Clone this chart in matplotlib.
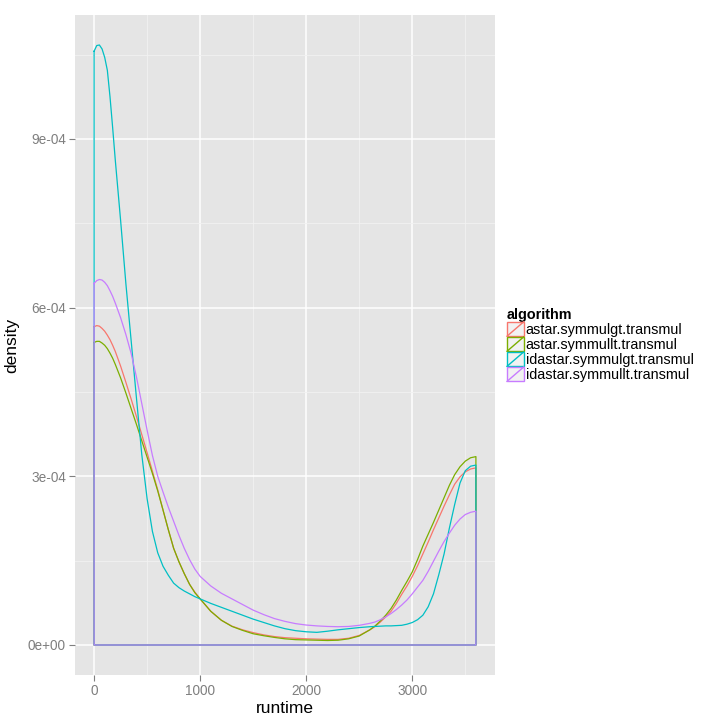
import matplotlib
matplotlib.use("Agg")
import matplotlib.pyplot as plt
from matplotlib.legend_handler import HandlerBase
from matplotlib.patches import Rectangle
from matplotlib.lines import Line2D

plt.rcParams['font.family'] = ['Liberation Sans', 'DejaVu Sans']

# ---- data (density in units of 1e-4) ----
runtime = [0, 25, 50, 75, 100, 125,
           150, 175, 200, 250, 300, 350, 400, 450, 500, 550, 600, 650, 700, 750, 800, 850, 900, 950, 1000,
           1100, 1200, 1300, 1400, 1500, 1600, 1700, 1800, 1900, 2000, 2100, 2200, 2300, 2400, 2500, 2600,
           2650, 2700, 2750, 2800, 2850, 2900, 2950, 3000, 3050, 3100, 3150, 3200, 3250, 3300, 3350,
           3400, 3450, 3500, 3550, 3600]

algorithms = ["astar.symmulgt.transmul", "astar.symmullt.transmul",
              "idastar.symmulgt.transmul", "idastar.symmullt.transmul"]

astar_symmulgt = [5.66, 5.68, 5.67, 5.63, 5.58, 5.51,
                  5.43, 5.33, 5.22, 4.96, 4.67, 4.37, 4.06, 3.74, 3.42, 3.09, 2.76, 2.40, 2.05, 1.72, 1.48, 1.27, 1.08, 0.94, 0.82,
                  0.60, 0.44, 0.335, 0.27, 0.22, 0.18, 0.15, 0.13, 0.12, 0.11, 0.105, 0.10, 0.10, 0.12, 0.17, 0.27,
                  0.33, 0.41, 0.50, 0.60, 0.74, 0.90, 1.05, 1.22, 1.41, 1.62, 1.83, 2.05, 2.26, 2.47, 2.67,
                  2.86, 2.99, 3.08, 3.13, 3.15]
astar_symmullt = [5.38, 5.40, 5.40, 5.37, 5.33, 5.27,
                  5.19, 5.10, 4.99, 4.75, 4.48, 4.20, 3.92, 3.63, 3.34, 3.05, 2.74, 2.40, 2.05, 1.72, 1.48, 1.27, 1.08, 0.93, 0.82,
                  0.60, 0.44, 0.33, 0.26, 0.20, 0.165, 0.135, 0.11, 0.095, 0.09, 0.085, 0.08, 0.085, 0.11, 0.16, 0.27,
                  0.34, 0.43, 0.53, 0.65, 0.80, 0.97, 1.13, 1.30, 1.52, 1.76, 1.97, 2.18, 2.40, 2.62, 2.84,
                  3.03, 3.17, 3.27, 3.33, 3.35]
idastar_symmulgt = [10.56, 10.66, 10.67, 10.60, 10.45, 10.22,
                    9.75, 9.20, 8.62, 7.55, 6.42, 5.40, 4.38, 3.38, 2.60, 2.02, 1.64, 1.40, 1.24, 1.10, 1.02, 0.96, 0.91, 0.86, 0.82,
                    0.74, 0.67, 0.60, 0.53, 0.46, 0.40, 0.34, 0.29, 0.255, 0.235, 0.225, 0.245, 0.27, 0.29, 0.31, 0.325,
                    0.33, 0.335, 0.34, 0.34, 0.345, 0.35, 0.37, 0.40, 0.45, 0.53, 0.68, 0.91, 1.25, 1.62, 2.08,
                    2.50, 2.88, 3.10, 3.18, 3.20]
idastar_symmullt = [6.43, 6.48, 6.50, 6.49, 6.45, 6.39,
                    6.30, 6.20, 6.08, 5.82, 5.52, 5.18, 4.76, 4.29, 3.82, 3.37, 3.00, 2.72, 2.45, 2.20, 1.95, 1.72, 1.52, 1.35, 1.22,
                    1.05, 0.92, 0.82, 0.72, 0.62, 0.54, 0.47, 0.42, 0.38, 0.355, 0.34, 0.33, 0.325, 0.33, 0.35, 0.385,
                    0.41, 0.45, 0.50, 0.56, 0.63, 0.71, 0.80, 0.91, 1.03, 1.15, 1.31, 1.49, 1.67, 1.84, 1.99,
                    2.13, 2.24, 2.32, 2.36, 2.38]

series = [astar_symmulgt, astar_symmullt, idastar_symmulgt, idastar_symmullt]
colors = ["#F8766D", "#7CAE00", "#00BFC4", "#C77CFF"]

xticks = [0, 1000, 2000, 3000]
yticks = [0, 3e-4, 6e-4, 9e-4]
ytick_labels = ["0e+00", "3e-04", "6e-04", "9e-04"]

# ---- figure ----
fig = plt.figure(figsize=(7.2, 7.2), dpi=100)
ax = fig.add_axes([75/720, 1-675/720, 420/720, 660/720])
ax.set_facecolor("#E5E5E5")
for s in ax.spines.values():
    s.set_visible(False)

for vals, col in zip(series, colors):
    ys = [v * 1e-4 for v in vals]
    xs = list(runtime) + [runtime[-1], runtime[0], runtime[0]]
    yy = ys + [0.0, 0.0, ys[0]]
    ax.plot(xs, yy, color=col, lw=0.9, solid_joinstyle='round')

ymax = max(max(s) for s in series) * 1e-4
xr = runtime[-1] - runtime[0]
ax.set_xlim(runtime[0] - 0.05 * xr, runtime[-1] + 0.05 * xr)
ax.set_ylim(-0.05 * ymax, ymax * 1.05)

ax.set_xticks(xticks)
ax.set_xticklabels([str(t) for t in xticks])
ax.set_yticks(yticks)
ax.set_yticklabels(ytick_labels)
ax.set_xticks([500, 1500, 2500, 3500], minor=True)
ax.set_yticks([1.5e-4, 4.5e-4, 7.5e-4, 10.5e-4], minor=True)
ax.grid(which='major', color='white', lw=1.1)
ax.grid(which='minor', color='#F2F2F2', lw=0.6)
ax.set_axisbelow(True)
ax.tick_params(which='major', length=4.5, width=0.8, color='#7F7F7F',
               labelcolor='#7F7F7F', labelsize=9.8, pad=2)
ax.tick_params(which='minor', length=0)

ax.set_xlabel("runtime", fontsize=12.5, labelpad=2)
ax.set_ylabel("density", fontsize=12.5, labelpad=6)


class KeyHandler(HandlerBase):
    def create_artists(self, legend, orig_handle, xdescent, ydescent, width, height, fontsize, trans):
        col = orig_handle.get_color()
        r = Rectangle((-xdescent, -ydescent), width, height, facecolor="#F2F2F2",
                      edgecolor=col, lw=1.0, transform=trans)
        l = Line2D([-xdescent, -xdescent + width], [-ydescent, -ydescent + height],
                   color=col, lw=1.0, transform=trans)
        return [r, l]


handles = [Line2D([], [], color=c) for c in colors]
leg = fig.legend(handles, algorithms, loc='center left', bbox_to_anchor=(507/720, 1-345/720),
                 frameon=False, fontsize=10.4, title="algorithm",
                 title_fontproperties={'weight': 'bold', 'size': 10.4},
                 handler_map={Line2D: KeyHandler()}, handlelength=1.15, handleheight=1.15,
                 labelspacing=0.0, handletextpad=0.15, borderpad=0, borderaxespad=0)
leg._legend_box.align = "left"

fig.savefig("out.png", dpi=100)
